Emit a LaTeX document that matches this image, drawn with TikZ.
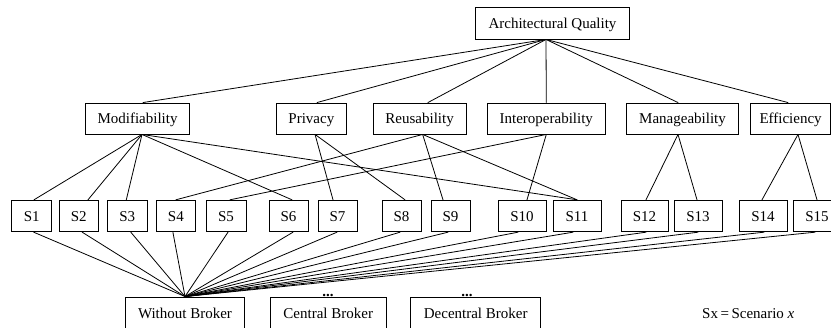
\documentclass[tikz,border=0pt]{standalone}
\usepackage{fontspec}
\setmainfont{Liberation Serif}
\begin{document}
\begin{tikzpicture}[x=1pt,y=-1pt,
  box/.style={draw, line width=0.9pt, inner sep=0pt, font=\fontsize{15}{18}\selectfont,
              text height=11pt, text depth=0pt},
  qbox/.style={box, minimum height=31pt},
  sbox/.style={box, minimum height=31.5pt},
  bbox/.style={box, minimum height=32pt},
  edge/.style={line width=0.8pt, line cap=round}]
\useasboundingbox (0,0) rectangle (831,328);
\clip (0,0) rectangle (831,328);

% root
\node[box, minimum width=153.6pt, minimum height=32pt] (aq) at (552.5,23) {Architectural Quality};
\coordinate (aqa) at ([xshift=-6.5pt]aq.south);

% quality attributes
\node[qbox, minimum width=103.6pt] (mod)   at (137.5,118.5) {Modifiability};
\node[qbox, minimum width=69.3pt]  (priv)  at (311.35,118.5) {Privacy};
\node[qbox, minimum width=92.7pt]  (reus)  at (419.65,118.5) {Reusability};
\node[qbox, minimum width=118pt]   (inter) at (546.3,118.5) {Interoperability};
\node[qbox, minimum width=111.6pt] (man)   at (682.5,118.5) {Manageability};
\node[qbox, minimum width=79.8pt]  (eff)   at (790.6,118.5) {Efficiency};

% scenarios
\foreach \n/\x/\w in {1/31.7/40, 2/78.7/39.3, 3/127.3/40, 4/175.9/38.3, 5/226/40,
                      6/288.5/39, 7/337.5/39, 8/401.5/39, 9/450.5/39,
                      10/522/48, 11/577/48, 12/644.5/47, 13/698/48, 14/763/48, 15/817/48}
  \node[sbox, minimum width=\w pt] (s\n) at (\x,216) {S\n};

% architecture alternatives
\node[bbox, minimum width=118.6pt] (wb) at (185,313) {Without Broker};
\node[bbox, minimum width=115.5pt] (cb) at (328.25,313) {Central Broker};
\node[bbox, minimum width=130pt]   (db) at (475.7,313) {Decentral Broker};
\node[anchor=base, inner sep=0pt, font=\fontsize{15}{18}\selectfont\bfseries] (cbdots) at (328,297) {...};
\node[anchor=base, inner sep=0pt, font=\fontsize{15}{18}\selectfont\bfseries] (dbdots) at (467,297) {...};
\node[anchor=base west, inner sep=0pt, font=\fontsize{15}{18}\selectfont] (legend) at (702,318.5)
  {Sx\,=\,Scenario \textit{x}};

% root to attributes
\foreach \t/\s in {mod/5.5, priv/5.7, reus/8.3, inter/0, man/-4.5, eff/-2.6}
  \draw[edge] (aqa) -- ([xshift=\s pt]\t.north);

% attribute apexes
\coordinate (moda)   at ([xshift=4.5pt]mod.south);
\coordinate (priva)  at ([xshift=3.7pt]priv.south);
\coordinate (reusa)  at ([xshift=3pt]reus.south);
\coordinate (intera) at (inter.south);
\coordinate (mana)   at ([xshift=-4.5pt]man.south);
\coordinate (effa)   at ([xshift=7.4pt]eff.south);

% attributes to scenarios
\foreach \a/\n/\s in {moda/1/2.3, moda/2/9.3, moda/3/-1, moda/6/3.5, moda/11/0,
                      priva/7/-4.5, priva/8/3.5,
                      reusa/4/0, reusa/9/-7.5, reusa/11/0,
                      intera/5/4, intera/10/5,
                      mana/12/1.5, mana/13/-1,
                      effa/14/-1, effa/15/0}
  \draw[edge] (\a) -- ([xshift=\s pt]s\n.north);

% scenarios to the alternative without broker
\foreach \n/\s in {1/2, 2/3.5, 3/3.5, 4/-3, 5/2, 6/4.5, 7/-0.5, 8/-1.5, 9/-2.5,
                   10/-4, 11/-4, 12/1.5, 13/0, 14/1, 15/-2}
  \draw[edge] ([xshift=\s pt]s\n.south) -- (wb.north);
\end{tikzpicture}
\end{document}
